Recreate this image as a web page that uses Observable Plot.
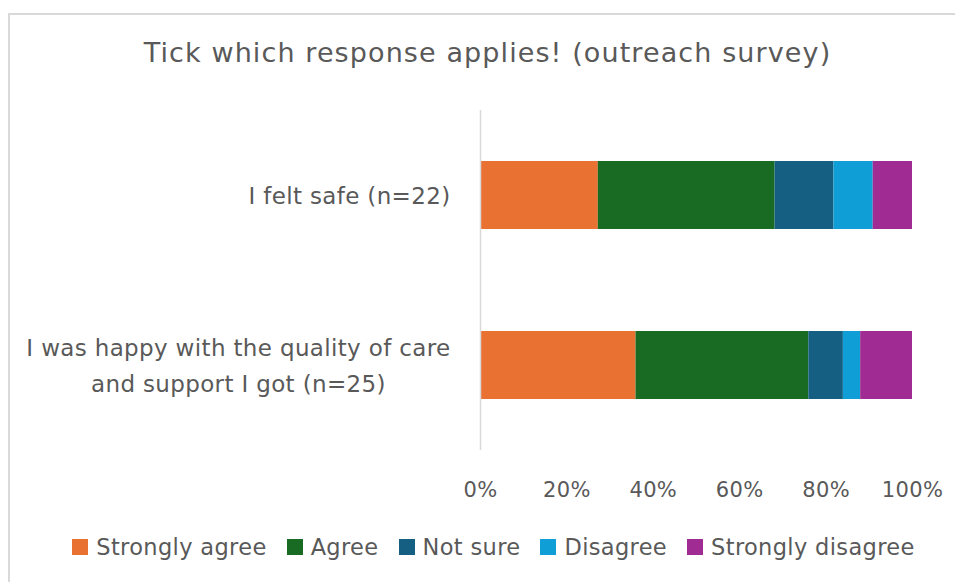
<!DOCTYPE html>
<html>
<head>
<meta charset="utf-8">
<script src="https://cdn.jsdelivr.net/npm/d3@7"></script>
<script src="https://cdn.jsdelivr.net/npm/@observablehq/plot@0.6"></script>
<style>
  body { margin: 0; background: #fff; font-family: "DejaVu Sans", sans-serif; }
  #wrap { position: relative; width: 955px; height: 582px; overflow: hidden; }
  #frame { position: absolute; left: 8px; top: 13px; width: 980px; height: 620px; border: 2px solid #d9d9d9; box-sizing: border-box; }
  #title { position: absolute; left: 20px; width: 935px; top: 37px; text-align: center; font-size: 27px; letter-spacing: 1.1px; color: #595959; line-height: 1.2; }
  #chart { position: absolute; left: 0; top: 0; }
  #legend { position: absolute; left: 20px; width: 947px; top: 534px; display: flex; justify-content: center; gap: 20px; font-size: 22.5px; letter-spacing: 0.35px; color: #595959; }
  #legend .item { display: flex; align-items: center; gap: 8px; }
  #legend .sw { width: 16px; height: 16px; display: inline-block; }
  #chart text { letter-spacing: 0.35px; }
</style>
</head>
<body>
<div id="wrap">
  <div id="frame"></div>
  <div id="title">Tick which response applies! (outreach survey)</div>
  <div id="chart"></div>
  <div id="legend"></div>
</div>
<script>
const categories = ["I felt safe (n=22)", "I was happy with the quality of care\nand support I got (n=25)"];
const responses = ["Strongly agree", "Agree", "Not sure", "Disagree", "Strongly disagree"];
const colors = ["#E97132", "#196B24", "#156082", "#0F9ED5", "#A02B93"];
const feltSafe = [6, 9, 3, 2, 2];
const happyCare = [9, 10, 2, 1, 3];
const xTicks = [0, 0.2, 0.4, 0.6, 0.8, 1];

const seriesByCat = [feltSafe, happyCare];
const data = [];
categories.forEach((c, i) => responses.forEach((r, j) => data.push({category: c, response: r, count: seriesByCat[i][j]})));

const chart = Plot.plot({
  width: 955,
  height: 582,
  marginLeft: 480,
  marginRight: 43,
  marginTop: 110,
  marginBottom: 132,
  style: {fontFamily: "DejaVu Sans, sans-serif", color: "#595959", background: "transparent"},
  x: {domain: [0, 1], ticks: xTicks, tickFormat: d3.format(".0%")},
  y: {domain: categories, paddingInner: 0.6, paddingOuter: 0.3},
  color: {domain: responses, range: colors},
  marks: [
    Plot.barX(data, Plot.stackX({
      x: "count", y: "category", fill: "response",
      offset: "normalize", order: responses
    })),
    Plot.ruleX([0], {stroke: "#d9d9d9", strokeWidth: 1.5}),
    Plot.axisX({ticks: xTicks, tickFormat: d3.format(".0%"), tickSize: 0, tickPadding: 32, fontSize: 21, fill: "#595959", label: null}),
    Plot.axisY({tickSize: 0, tickPadding: 30, dy: -3, fontSize: 23, fill: "#595959", lineHeight: 1.55, label: null, tickFormat: d => d})
  ]
});
document.getElementById("chart").appendChild(chart);

// center multi-line category labels within their right-aligned box (as in the reference)
chart.querySelectorAll('g[aria-label="y-axis tick label"] text').forEach(t => {
  const b0 = t.getBBox();
  const right = b0.x + b0.width;
  t.setAttribute("text-anchor", "middle");
  const b1 = t.getBBox();
  const shift = right - (b1.x + b1.width);
  const tr = t.getAttribute("transform") || "";
  t.setAttribute("transform", (tr + ` translate(${shift},0)`).trim());
});

const legend = document.getElementById("legend");
responses.forEach((r, i) => {
  const item = document.createElement("span");
  item.className = "item";
  const sw = document.createElement("span");
  sw.className = "sw";
  sw.style.background = colors[i];
  const lab = document.createElement("span");
  lab.textContent = r;
  item.appendChild(sw);
  item.appendChild(lab);
  legend.appendChild(item);
});
</script>
</body>
</html>
